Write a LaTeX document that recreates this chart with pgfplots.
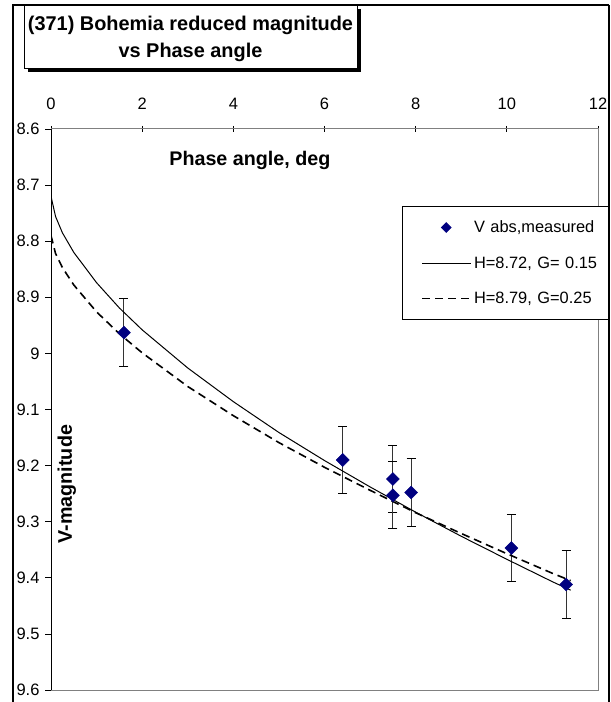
\documentclass[border=0pt]{standalone}
\usepackage{fontspec}
\setmainfont{Liberation Sans}
\usepackage{pgfplots}
\pgfplotsset{compat=1.18}
\definecolor{navypt}{HTML}{000080}
\definecolor{framegray}{HTML}{808080}
\pgfplotsset{
    lineleg/.style={legend image code/.code={\path (0bp,0bp); \draw[##1] (15bp,0bp) -- (64bp,0bp);}},
    markleg/.style={legend image code/.code={\path (0bp,0bp); \draw[##1, mark size=3.4bp] plot coordinates {(39bp,0bp)};}},
}

\begin{document}
\begin{tikzpicture}[x=1bp,y=1bp]
\clip (0,0) rectangle (611,702);
\fill[white] (0,0) rectangle (611,702);
\begin{axis}[
    at={(51bp,12bp)}, anchor=south west,
    scale only axis, width=547bp, height=561bp,
    xmin=0, xmax=12, ymin=8.6, ymax=9.6,
    y dir=reverse,
    xtick={0,2,4,6,8,10,12},
    ytick={8.6,8.7,8.8,8.9,9,9.1,9.2,9.3,9.4,9.5,9.6},
    yticklabels={8.6,8.7,8.8,8.9,9,9.1,9.2,9.3,9.4,9.5,9.6},
    xtick pos=upper, xticklabel pos=upper, ytick pos=left,
    xtick align=center, ytick align=outside,
    major tick length=6bp,
    tick style={black, line width=0.8bp},
    axis line style={framegray, line width=1bp},
    ticklabel style={font=\fontsize{16.5bp}{19bp}\selectfont},
    /pgf/number format/assume math mode=true,
    xticklabel style={anchor=center, yshift=22bp},
    yticklabel style={anchor=east, xshift=-2bp},
    xlabel={Phase angle, deg},
    xlabel style={at={(rel axis cs:0.21,0.944)}, anchor=west,
        font=\bfseries\fontsize{19.7bp}{23bp}\selectfont},
    ylabel={V-magnitude},
    ylabel style={at={(rel axis cs:0.029,0.367)}, anchor=center,
        font=\bfseries\fontsize{19.7bp}{23bp}\selectfont},
    legend cell align=left,
    legend style={at={(rel axis cs:0.6417,0.8619)}, anchor=north west,
        draw=black, line width=0.8bp, fill=white,
        font=\fontsize{16.4bp}{19bp}\selectfont,
        inner xsep=4bp, inner ysep=12bp, row sep=18.5bp, column sep=0bp,
        nodes={text width=129bp, inner sep=2bp}},
]
% error bars first, so the markers sit on top
\addplot[forget plot, only marks, mark=none,
    error bars/.cd, y dir=both, y explicit,
    error bar style={line width=1.1bp, black!80},
    error mark options={rotate=90, black, line width=1bp, mark size=4.5bp}]
    coordinates {
    (1.6,8.963) +- (0,0.06)
    (6.4,9.190) +- (0,0.06)
    (7.5,9.224) +- (0,0.06)
    (7.5,9.253) +- (0,0.06)
    (7.9,9.248) +- (0,0.06)
    (10.1,9.347) +- (0,0.06)
    (11.3,9.412) +- (0,0.06)
    };
\addplot[only marks, mark=square*, mark size=4.6bp,
    mark options={rotate=45, fill=navypt, draw=navypt}, markleg]
    coordinates {
    (1.6,8.963) (6.4,9.190) (7.5,9.224) (7.5,9.253)
    (7.9,9.248) (10.1,9.347) (11.3,9.412)
    };
\addlegendentry{V abs,measured}
\addplot[black, line width=1bp, mark=none, lineleg]
    coordinates {
    (0,8.720) (0.1,8.756) (0.25,8.785) (0.5,8.820) (1,8.874) (1.5,8.919)
    (2,8.958) (3,9.026) (4,9.086) (5,9.141) (6,9.191) (7,9.238)
    (8,9.283) (9,9.326) (10,9.367) (11,9.407) (11.4,9.422)
    };
\addlegendentry{H=8.72, G= 0.15}
\addplot[black, line width=1.6bp, dash pattern=on 8bp off 5bp, mark=none, lineleg]
    coordinates {
    (0,8.790) (0.1,8.822) (0.25,8.847) (0.5,8.878) (1,8.926) (1.5,8.965)
    (2,8.999) (3,9.059) (4,9.111) (5,9.159) (6,9.203) (7,9.244)
    (8,9.284) (9,9.321) (10,9.357) (11,9.392) (11.4,9.405)
    };
\addlegendentry{H=8.79, G=0.25}
\draw[black, line width=1bp] (rel axis cs:0,0) -- (rel axis cs:0,1);
\end{axis}
% chart border
\draw[line width=1.2bp] (13,-10) |- (609,697);
\draw[line width=2bp] (609,697) -- (609,-10);
% title box with shadow
\fill[black] (28,630) rectangle (361,693);
\draw[fill=white, line width=0.8bp] (24,634) rectangle (357,697);
\node[align=center, font=\bfseries\fontsize{19.9bp}{27bp}\selectfont]
    at (190.5,663.5) {(371) Bohemia reduced magnitude\\vs Phase angle};
\end{tikzpicture}
\end{document}
